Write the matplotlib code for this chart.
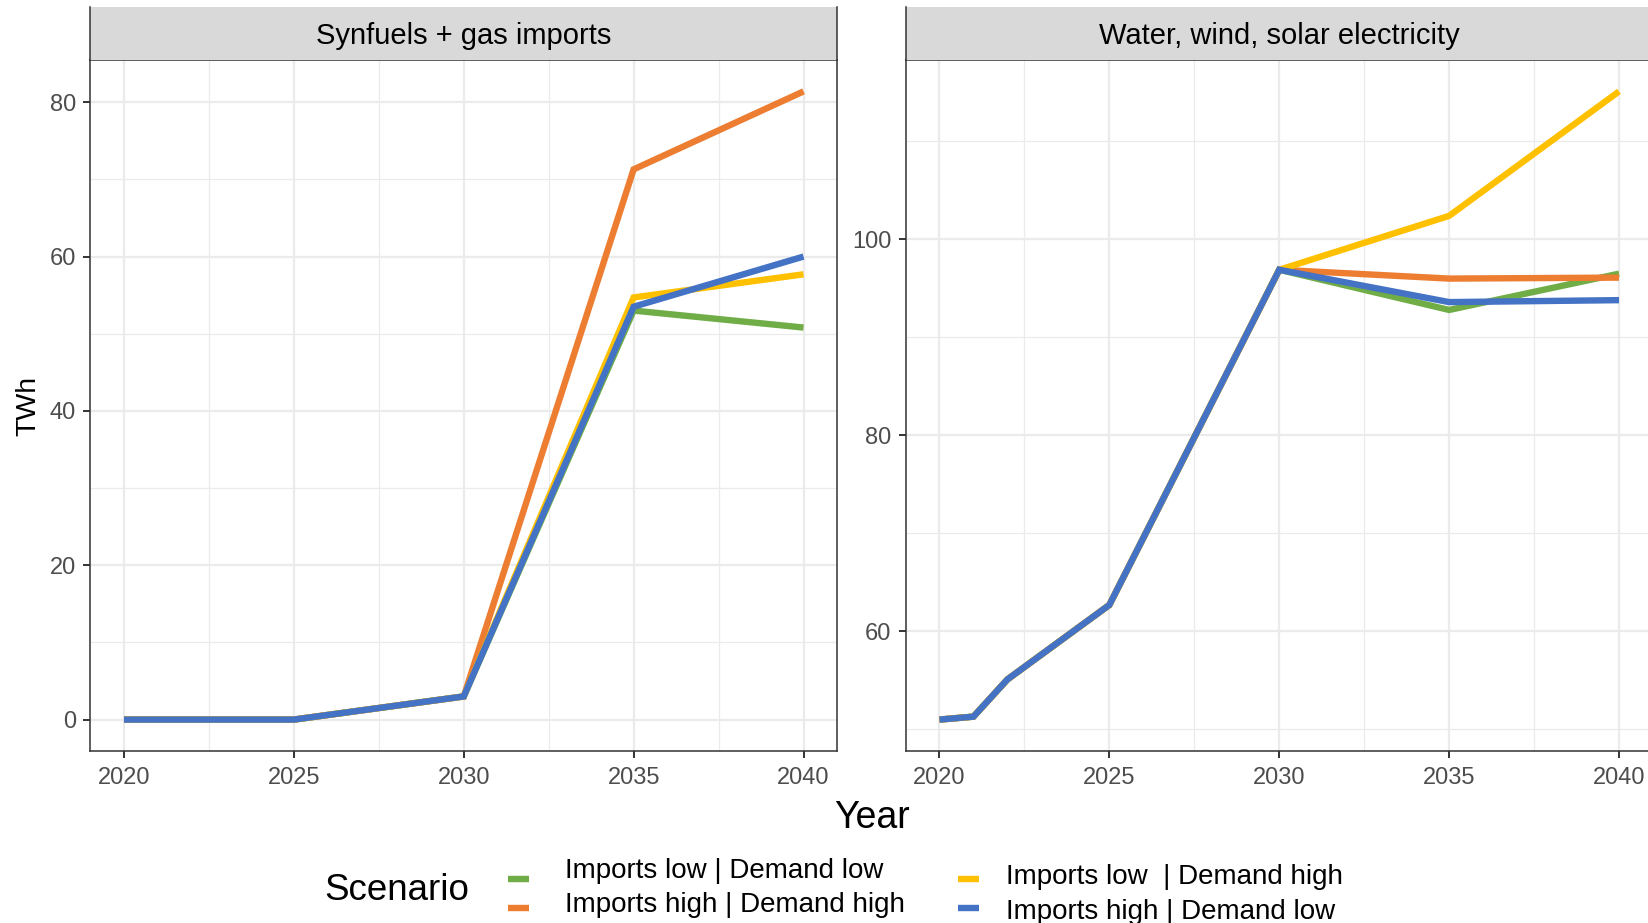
import matplotlib
matplotlib.use("Agg")
import matplotlib.pyplot as plt
from matplotlib.patches import Rectangle
from matplotlib.lines import Line2D
from matplotlib.ticker import FixedLocator

plt.rcParams['font.family'] = ['Liberation Sans', 'DejaVu Sans']

# ---- data ----
scenarios = ["Imports low | Demand low", "Imports high | Demand high",
             "Imports low  | Demand high", "Imports high | Demand low"]
colors = ["#70AD47", "#ED7D31", "#FFC000", "#4472C4"]

panel_titles = ["Synfuels + gas imports", "Water, wind, solar electricity"]

years_fuel = [2020, 2025, 2030, 2035, 2040]
fuel_low_low = [0.0, 0.0, 3.0, 53.0, 50.8]
fuel_high_high = [0.0, 0.0, 3.0, 71.3, 81.4]
fuel_low_high = [0.0, 0.0, 3.0, 54.7, 57.7]
fuel_high_low = [0.0, 0.0, 3.0, 53.5, 60.0]

years_elec = [2020, 2021, 2022, 2025, 2030, 2035, 2040]
elec_low_low = [51.0, 51.3, 55.1, 62.7, 96.9, 92.8, 96.5]
elec_high_high = [51.0, 51.3, 55.1, 62.7, 96.9, 96.0, 96.1]
elec_low_high = [51.0, 51.3, 55.1, 62.7, 96.9, 102.4, 115.1]
elec_high_low = [51.0, 51.3, 55.1, 62.7, 96.9, 93.6, 93.8]

x_ticks = [2020, 2025, 2030, 2035, 2040]
fuel_yticks = [0, 20, 40, 60, 80]
elec_yticks = [60, 80, 100]

panels = [
    (years_fuel, [fuel_low_low, fuel_high_high, fuel_low_high, fuel_high_low], fuel_yticks, 20),
    (years_elec, [elec_low_low, elec_high_high, elec_low_high, elec_high_low], elec_yticks, 20),
]

# ---- figure ----
W, H = 1649, 923
fig = plt.figure(figsize=(W / 100, H / 100), dpi=100)
fig.patch.set_facecolor("white")

panel_top, panel_bottom = 60, 751
strip_h = 52.6
panel_w = 747.5
lefts = [90, 905.5]

border = "#333333"
gridc = "#EBEBEB"
tickc = "#4D4D4D"


def expand(lo, hi, frac=0.05):
    r = hi - lo
    return lo - r * frac, hi + r * frac


axes = []
for i, (xs, series, yticks, ystep) in enumerate(panels):
    ax = fig.add_axes([lefts[i] / W, (H - panel_bottom) / H,
                       panel_w / W, (panel_bottom - panel_top) / H])
    axes.append(ax)
    ax.set_facecolor("white")

    for ys, c in zip(series, colors):
        ax.plot(xs, ys, color=c, lw=4.6, solid_capstyle="butt",
                solid_joinstyle="miter", zorder=3)

    allv = [v for s in series for v in s]
    ax.set_xlim(*expand(min(xs), max(xs)))
    ax.set_ylim(*expand(min(allv), max(allv)))

    ax.xaxis.set_major_locator(FixedLocator(x_ticks))
    ax.xaxis.set_minor_locator(FixedLocator([t + 2.5 for t in x_ticks[:-1]]))
    ax.yaxis.set_major_locator(FixedLocator(yticks))
    ymin = [t - ystep / 2 for t in yticks] + [yticks[-1] + ystep / 2]
    ax.yaxis.set_minor_locator(FixedLocator(ymin))

    ax.grid(which="major", color=gridc, lw=1.6, zorder=0)
    ax.grid(which="minor", color=gridc, lw=0.9, zorder=0)
    ax.set_axisbelow(True)

    ax.tick_params(which="major", length=5.2, width=1.4, color=border,
                   labelsize=17, labelcolor=tickc)
    ax.tick_params(axis="x", which="major", pad=6)
    ax.tick_params(axis="y", which="major", pad=5)
    ax.tick_params(which="minor", length=0)
    for sp in ax.spines.values():
        sp.set_color(border)
        sp.set_linewidth(1.1)

    # facet strip
    sh = strip_h / (panel_bottom - panel_top)
    ax.add_patch(Rectangle((0, 1), 1, sh, transform=ax.transAxes,
                           facecolor="#D9D9D9", edgecolor="none",
                           clip_on=False, zorder=5))
    for xe in (0, 1):
        ax.add_line(Line2D([xe, xe], [1, 1 + sh], transform=ax.transAxes,
                           color=border, lw=1.1, clip_on=False, zorder=6))
    ax.text(0.5, 1 + sh / 2 - 2.5 / (panel_bottom - panel_top), panel_titles[i],
            transform=ax.transAxes, ha="center", va="center", fontsize=21,
            color="black", zorder=7)

axes[0].set_ylabel("TWh", fontsize=20.5, labelpad=6)
fig.text(872 / W, 1 - 818 / H, "Year", ha="center", va="center", fontsize=27)

# ---- legend ----
fig.text(324 / W, 1 - 890 / H, "Scenario", ha="left", va="center", fontsize=26.5)
key_pos = [(518.5, 879), (518.5, 907.5), (968.5, 879), (968.5, 907.5)]
txt_pos = [(565, 871), (565, 905), (1005.5, 877), (1005.5, 912)]
for (kx, ky), (tx, ty), lab, c in zip(key_pos, txt_pos, scenarios, colors):
    fig.add_artist(Line2D([(kx - 10.5) / W, (kx + 10.5) / W],
                          [1 - ky / H, 1 - ky / H], color=c, lw=4.6,
                          solid_capstyle="butt"))
    fig.text(tx / W, 1 - ty / H, lab, ha="left", va="center", fontsize=20)

fig.savefig("out.png", dpi=100, facecolor="white")
